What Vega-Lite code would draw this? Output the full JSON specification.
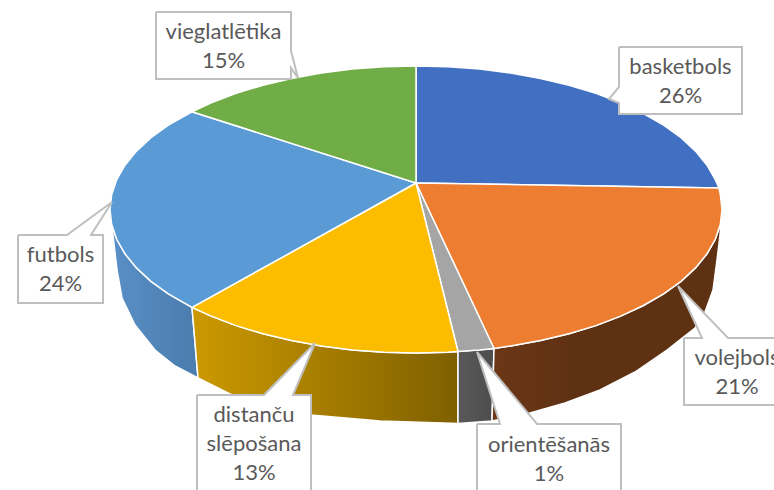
{"$schema":"https://vega.github.io/schema/vega-lite/v6.json","width":774,"height":490,"padding":0,"autosize":{"type":"fit","contains":"padding"},"background":"white","config":{"view":{"stroke":null}},
"datasets":{"walls":[
{"part":"futbols","i":1,"x":-224,"y":-124.4},{"part":"futbols","i":2,"x":-247.6,"y":-110.8},{"part":"futbols","i":3,"x":-265,"y":-98.3},{"part":"futbols","i":4,"x":-279.5,"y":-84.9},{"part":"futbols","i":5,"x":-291,"y":-70.8},{"part":"futbols","i":6,"x":-299.3,"y":-56.3},{"part":"futbols","i":7,"x":-304.3,"y":-41.5},{"part":"futbols","i":8,"x":-306,"y":-26.5},{"part":"futbols","i":9,"x":-303,"y":-52},{"part":"futbols","i":10,"x":-299,"y":-87},{"part":"futbols","i":11,"x":-294,"y":-115},{"part":"futbols","i":12,"x":-281,"y":-142},{"part":"futbols","i":13,"x":-261,"y":-167},{"part":"futbols","i":14,"x":-241,"y":-183},{"part":"futbols","i":15,"x":-218,"y":-195},{"part":"futbols","i":16,"x":-224,"y":-124.4},
{"part":"distancu","i":1,"x":-224,"y":-124.4},{"part":"distancu","i":2,"x":-204.7,"y":-133.1},{"part":"distancu","i":3,"x":-179.9,"y":-142.6},{"part":"distancu","i":4,"x":-153,"y":-150.8},{"part":"distancu","i":5,"x":-124.5,"y":-157.6},{"part":"distancu","i":6,"x":-94.6,"y":-163},{"part":"distancu","i":7,"x":-63.6,"y":-166.9},{"part":"distancu","i":8,"x":-32,"y":-169.2},{"part":"distancu","i":9,"x":0,"y":-170},{"part":"distancu","i":10,"x":32,"y":-169.2},{"part":"distancu","i":11,"x":42,"y":-168.5},{"part":"distancu","i":12,"x":42,"y":-240.5},{"part":"distancu","i":13,"x":-36,"y":-238},{"part":"distancu","i":14,"x":-105,"y":-232},{"part":"distancu","i":15,"x":-146,"y":-224},{"part":"distancu","i":16,"x":-186,"y":-211},{"part":"distancu","i":17,"x":-218,"y":-195},{"part":"distancu","i":18,"x":-224,"y":-124.4},
{"part":"orient","i":1,"x":42,"y":-168.5},{"part":"orient","i":2,"x":78,"y":-165.5},{"part":"orient","i":3,"x":76,"y":-238},{"part":"orient","i":4,"x":42,"y":-240.5},{"part":"orient","i":5,"x":42,"y":-168.5},
{"part":"volejbols","i":1,"x":78,"y":-165.5},{"part":"volejbols","i":2,"x":94.6,"y":-163},{"part":"volejbols","i":3,"x":124.5,"y":-157.6},{"part":"volejbols","i":4,"x":153,"y":-150.8},{"part":"volejbols","i":5,"x":179.9,"y":-142.6},{"part":"volejbols","i":6,"x":204.7,"y":-133.1},{"part":"volejbols","i":7,"x":227.4,"y":-122.5},{"part":"volejbols","i":8,"x":247.6,"y":-110.8},{"part":"volejbols","i":9,"x":265,"y":-98.3},{"part":"volejbols","i":10,"x":279.5,"y":-84.9},{"part":"volejbols","i":11,"x":291,"y":-70.8},{"part":"volejbols","i":12,"x":299.3,"y":-56.3},{"part":"volejbols","i":13,"x":304.3,"y":-41.5},{"part":"volejbols","i":14,"x":306,"y":-26.5},{"part":"volejbols","i":15,"x":304,"y":-52},{"part":"volejbols","i":16,"x":301,"y":-77},{"part":"volejbols","i":17,"x":297,"y":-107},{"part":"volejbols","i":18,"x":289,"y":-129},{"part":"volejbols","i":19,"x":279,"y":-145},{"part":"volejbols","i":20,"x":251,"y":-167},{"part":"volejbols","i":21,"x":219,"y":-189},{"part":"volejbols","i":22,"x":184,"y":-207},{"part":"volejbols","i":23,"x":149,"y":-220},{"part":"volejbols","i":24,"x":114,"y":-230},{"part":"volejbols","i":25,"x":76,"y":-238},{"part":"volejbols","i":26,"x":78,"y":-165.5}
],"tops":[
{"part":"basketbols","i":1,"x":0,"y":0},{"part":"basketbols","i":2,"x":0,"y":117},{"part":"basketbols","i":3,"x":32,"y":116.2},{"part":"basketbols","i":4,"x":63.6,"y":113.9},{"part":"basketbols","i":5,"x":94.6,"y":110},{"part":"basketbols","i":6,"x":124.5,"y":104.6},{"part":"basketbols","i":7,"x":153,"y":97.8},{"part":"basketbols","i":8,"x":179.9,"y":89.6},{"part":"basketbols","i":9,"x":204.7,"y":80.1},{"part":"basketbols","i":10,"x":227.4,"y":69.5},{"part":"basketbols","i":11,"x":247.6,"y":57.8},{"part":"basketbols","i":12,"x":265,"y":45.3},{"part":"basketbols","i":13,"x":279.5,"y":31.9},{"part":"basketbols","i":14,"x":291,"y":17.8},{"part":"basketbols","i":15,"x":299.3,"y":3.3},{"part":"basketbols","i":16,"x":303,"y":-5},{"part":"basketbols","i":17,"x":0,"y":0},
{"part":"volejbols","i":1,"x":0,"y":0},{"part":"volejbols","i":2,"x":303,"y":-5},{"part":"volejbols","i":3,"x":304.3,"y":-11.5},{"part":"volejbols","i":4,"x":306,"y":-26.5},{"part":"volejbols","i":5,"x":304.3,"y":-41.5},{"part":"volejbols","i":6,"x":299.3,"y":-56.3},{"part":"volejbols","i":7,"x":291,"y":-70.8},{"part":"volejbols","i":8,"x":279.5,"y":-84.9},{"part":"volejbols","i":9,"x":265,"y":-98.3},{"part":"volejbols","i":10,"x":247.6,"y":-110.8},{"part":"volejbols","i":11,"x":227.4,"y":-122.5},{"part":"volejbols","i":12,"x":204.7,"y":-133.1},{"part":"volejbols","i":13,"x":179.9,"y":-142.6},{"part":"volejbols","i":14,"x":153,"y":-150.8},{"part":"volejbols","i":15,"x":124.5,"y":-157.6},{"part":"volejbols","i":16,"x":94.6,"y":-163},{"part":"volejbols","i":17,"x":78,"y":-165.5},{"part":"volejbols","i":18,"x":0,"y":0},
{"part":"orientēšanās","i":1,"x":0,"y":0},{"part":"orientēšanās","i":2,"x":78,"y":-165.5},{"part":"orientēšanās","i":3,"x":63.6,"y":-166.9},{"part":"orientēšanās","i":4,"x":42,"y":-168.5},{"part":"orientēšanās","i":5,"x":0,"y":0},
{"part":"distanču slēpošana","i":1,"x":0,"y":0},{"part":"distanču slēpošana","i":2,"x":42,"y":-168.5},{"part":"distanču slēpošana","i":3,"x":32,"y":-169.2},{"part":"distanču slēpošana","i":4,"x":0,"y":-170},{"part":"distanču slēpošana","i":5,"x":-32,"y":-169.2},{"part":"distanču slēpošana","i":6,"x":-63.6,"y":-166.9},{"part":"distanču slēpošana","i":7,"x":-94.6,"y":-163},{"part":"distanču slēpošana","i":8,"x":-124.5,"y":-157.6},{"part":"distanču slēpošana","i":9,"x":-153,"y":-150.8},{"part":"distanču slēpošana","i":10,"x":-179.9,"y":-142.6},{"part":"distanču slēpošana","i":11,"x":-204.7,"y":-133.1},{"part":"distanču slēpošana","i":12,"x":-224,"y":-124.4},{"part":"distanču slēpošana","i":13,"x":0,"y":0},
{"part":"futbols","i":1,"x":0,"y":0},{"part":"futbols","i":2,"x":-224,"y":-124.4},{"part":"futbols","i":3,"x":-247.6,"y":-110.8},{"part":"futbols","i":4,"x":-265,"y":-98.3},{"part":"futbols","i":5,"x":-279.5,"y":-84.9},{"part":"futbols","i":6,"x":-291,"y":-70.8},{"part":"futbols","i":7,"x":-299.3,"y":-56.3},{"part":"futbols","i":8,"x":-304.3,"y":-41.5},{"part":"futbols","i":9,"x":-306,"y":-26.5},{"part":"futbols","i":10,"x":-304.3,"y":-11.5},{"part":"futbols","i":11,"x":-299.3,"y":3.3},{"part":"futbols","i":12,"x":-291,"y":17.8},{"part":"futbols","i":13,"x":-279.5,"y":31.9},{"part":"futbols","i":14,"x":-265,"y":45.3},{"part":"futbols","i":15,"x":-247.6,"y":57.8},{"part":"futbols","i":16,"x":-224,"y":71.2},{"part":"futbols","i":17,"x":0,"y":0},
{"part":"vieglatlētika","i":1,"x":0,"y":0},{"part":"vieglatlētika","i":2,"x":-224,"y":71.2},{"part":"vieglatlētika","i":3,"x":-204.7,"y":80.1},{"part":"vieglatlētika","i":4,"x":-179.9,"y":89.6},{"part":"vieglatlētika","i":5,"x":-153,"y":97.8},{"part":"vieglatlētika","i":6,"x":-124.5,"y":104.6},{"part":"vieglatlētika","i":7,"x":-94.6,"y":110},{"part":"vieglatlētika","i":8,"x":-63.6,"y":113.9},{"part":"vieglatlētika","i":9,"x":-32,"y":116.2},{"part":"vieglatlētika","i":10,"x":0,"y":117},{"part":"vieglatlētika","i":11,"x":0,"y":0}
],"callouts":[
{"part":"vieglatlētika","i":1,"x":-260,"y":171},{"part":"vieglatlētika","i":2,"x":-125,"y":171},{"part":"vieglatlētika","i":3,"x":-125,"y":132},{"part":"vieglatlētika","i":4,"x":-118,"y":105},{"part":"vieglatlētika","i":5,"x":-125,"y":115},{"part":"vieglatlētika","i":6,"x":-125,"y":104},{"part":"vieglatlētika","i":7,"x":-260,"y":104},{"part":"vieglatlētika","i":8,"x":-260,"y":171},
{"part":"basketbols","i":1,"x":203,"y":136},{"part":"basketbols","i":2,"x":326,"y":136},{"part":"basketbols","i":3,"x":326,"y":69},{"part":"basketbols","i":4,"x":203,"y":69},{"part":"basketbols","i":5,"x":203,"y":80},{"part":"basketbols","i":6,"x":193,"y":84},{"part":"basketbols","i":7,"x":203,"y":96},{"part":"basketbols","i":8,"x":203,"y":136},
{"part":"volejbols","i":1,"x":268,"y":-155},{"part":"volejbols","i":2,"x":286,"y":-155},{"part":"volejbols","i":3,"x":262,"y":-103},{"part":"volejbols","i":4,"x":312,"y":-155},{"part":"volejbols","i":5,"x":384,"y":-155},{"part":"volejbols","i":6,"x":384,"y":-222},{"part":"volejbols","i":7,"x":268,"y":-222},{"part":"volejbols","i":8,"x":268,"y":-155},
{"part":"orientēšanās","i":1,"x":61,"y":-241},{"part":"orientēšanās","i":2,"x":84,"y":-241},{"part":"orientēšanās","i":3,"x":61,"y":-169},{"part":"orientēšanās","i":4,"x":121,"y":-241},{"part":"orientēšanās","i":5,"x":205,"y":-241},{"part":"orientēšanās","i":6,"x":205,"y":-327},{"part":"orientēšanās","i":7,"x":61,"y":-327},{"part":"orientēšanās","i":8,"x":61,"y":-241},
{"part":"distanču slēpošana","i":1,"x":-219,"y":-212},{"part":"distanču slēpošana","i":2,"x":-152,"y":-212},{"part":"distanču slēpošana","i":3,"x":-101,"y":-160},{"part":"distanču slēpošana","i":4,"x":-123,"y":-212},{"part":"distanču slēpošana","i":5,"x":-105,"y":-212},{"part":"distanču slēpošana","i":6,"x":-105,"y":-327},{"part":"distanču slēpošana","i":7,"x":-219,"y":-327},{"part":"distanču slēpošana","i":8,"x":-219,"y":-212},
{"part":"futbols","i":1,"x":-398,"y":-52},{"part":"futbols","i":2,"x":-349,"y":-52},{"part":"futbols","i":3,"x":-304,"y":-19},{"part":"futbols","i":4,"x":-325,"y":-52},{"part":"futbols","i":5,"x":-313,"y":-52},{"part":"futbols","i":6,"x":-313,"y":-120},{"part":"futbols","i":7,"x":-398,"y":-120},{"part":"futbols","i":8,"x":-398,"y":-52}
],"labels":[
{"part":"basketbols","label":["basketbols","26%"],"x":264.5,"y":116},
{"part":"volejbols","label":["volejbols","21%"],"x":321,"y":-175},
{"part":"orientēšanās","label":["orientēšanās","1%"],"x":133,"y":-262},
{"part":"distanču slēpošana","label":["distanču","slēpošana","13%"],"x":-162,"y":-232},
{"part":"futbols","label":["futbols","24%"],"x":-355.5,"y":-72},
{"part":"vieglatlētika","label":["vieglatlētika","15%"],"x":-192.5,"y":151}
]},
"encoding":{"x":{"field":"x","type":"quantitative","axis":null,"scale":{"domain":[-416,358],"nice":false,"zero":false}},"y":{"field":"y","type":"quantitative","axis":null,"scale":{"domain":[-307,183],"nice":false,"zero":false}}},
"layer":[
{"data":{"name":"walls"},"transform":[{"filter":"datum.part==='futbols'"}],"mark":{"type":"line","clip":true,"stroke":"white","strokeWidth":1.5,"fill":{"gradient":"linear","x1":0,"y1":0,"x2":1,"y2":0,"stops":[{"offset":0,"color":"#5a90c8"},{"offset":1,"color":"#4a7cac"}]}},"encoding":{"order":{"field":"i","type":"quantitative"}}},
{"data":{"name":"walls"},"transform":[{"filter":"datum.part==='distancu'"}],"mark":{"type":"line","clip":true,"stroke":"white","strokeWidth":1.5,"fill":{"gradient":"linear","x1":0,"y1":0,"x2":1,"y2":0,"stops":[{"offset":0,"color":"#cc9900"},{"offset":1,"color":"#7f6000"}]}},"encoding":{"order":{"field":"i","type":"quantitative"}}},
{"data":{"name":"walls"},"transform":[{"filter":"datum.part==='orient'"}],"mark":{"type":"line","clip":true,"stroke":"white","strokeWidth":1.5,"fill":{"gradient":"linear","x1":0,"y1":0,"x2":1,"y2":0,"stops":[{"offset":0,"color":"#595959"},{"offset":1,"color":"#4d4d4d"}]}},"encoding":{"order":{"field":"i","type":"quantitative"}}},
{"data":{"name":"walls"},"transform":[{"filter":"datum.part==='volejbols'"}],"mark":{"type":"line","clip":true,"stroke":"white","strokeWidth":1.5,"fill":{"gradient":"linear","x1":0,"y1":0,"x2":1,"y2":0,"stops":[{"offset":0,"color":"#6b3716"},{"offset":0.35,"color":"#5f3113"},{"offset":1,"color":"#5f3113"}]}},"encoding":{"order":{"field":"i","type":"quantitative"}}},
{"data":{"name":"tops"},"mark":{"type":"line","clip":true,"stroke":"white","strokeWidth":1.5},"encoding":{"order":{"field":"i","type":"quantitative"},"fill":{"field":"part","type":"nominal","legend":null,"scale":{"domain":["basketbols","volejbols","orientēšanās","distanču slēpošana","futbols","vieglatlētika"],"range":["#4170c2","#ed7d31","#a5a5a5","#fcbd00","#5b9bd5","#70ad47"]}}}},
{"data":{"name":"callouts"},"mark":{"type":"line","clip":true,"stroke":"#bfbfbf","strokeWidth":2,"fill":"white"},"encoding":{"order":{"field":"i","type":"quantitative"},"detail":{"field":"part"}}},
{"data":{"name":"labels"},"mark":{"type":"text","clip":true,"font":"Lato","fontSize":22,"lineHeight":29,"color":"#595959","align":"center","baseline":"middle"},"encoding":{"text":{"field":"label"}}}
]}
